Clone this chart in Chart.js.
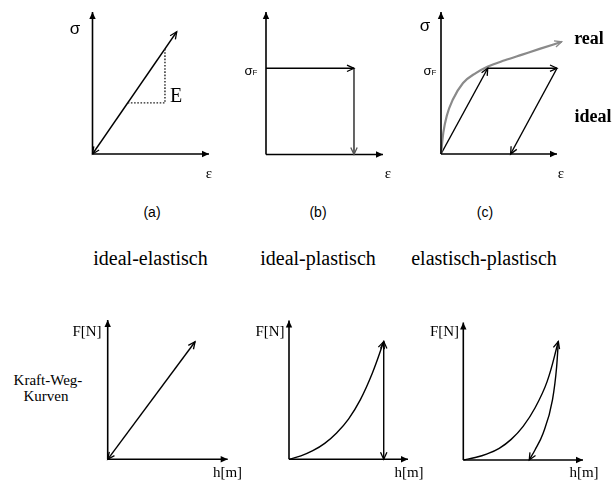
<!DOCTYPE html>
<html>
<head>
<meta charset="utf-8">
<script src="https://cdn.jsdelivr.net/npm/chart.js@4/dist/chart.umd.min.js"></script>
<style>
  html, body { margin: 0; padding: 0; background: #fff; }
  #stage { position: relative; width: 613px; height: 481px; overflow: hidden; background: #fff; }
  #stage canvas { position: absolute; }
  .t { position: absolute; white-space: nowrap; transform: translate(-50%, -50%); color: #000; line-height: 1; }
  .serif { font-family: "Liberation Serif", "DejaVu Serif", serif; }
  .sans { font-family: "Liberation Sans", "DejaVu Sans", sans-serif; }
  .bold { font-weight: bold; }
</style>
</head>
<body>
<div id="stage"></div>
<script>
// ---- Werte (normierte Achsen 0..1) ----
const axisSpan = [0, 1];

// (a) ideal-elastisch: Hooke-Gerade und Steigungsdreieck E
const strainA = [0, 0.723];
const stressA = [0, 0.861];
const slopeX  = [0.302, 0.622, 0.622];
const slopeY  = [0.36, 0.36, 0.741];

// (b) ideal-plastisch: Fliessen bei sigma_F, dann Entlastung
const strainB = [0, 0.752, 0.752];
const stressB = [0.605, 0.605, 0];

// (c) elastisch-plastisch: idealisierter Pfad und realer Verlauf
const strainCIdeal = [0, 0.403, 1.0, 0.60];
const stressCIdeal = [0, 0.604, 0.604, 0];
const strainCReal  = [0, 0.02, 0.05, 0.10, 0.19, 0.30, 0.40, 0.55, 0.70, 0.85, 1.04];
const stressCReal  = [0, 0.15, 0.27, 0.38, 0.50, 0.57, 0.615, 0.66, 0.70, 0.74, 0.79];

// Kraft-Weg-Kurven
const hD = [0, 0.728];
const FD = [0, 0.844];

const hE = [0, 0.1, 0.2, 0.3, 0.4, 0.5, 0.6, 0.7, 0.796];
const FE = [0, 0.025, 0.062, 0.115, 0.19, 0.29, 0.43, 0.62, 0.848];
const hEUnload = [0.796, 0.796];
const FEUnload = [0.848, 0];

const hF = [0, 0.1, 0.2, 0.3, 0.4, 0.5, 0.6, 0.7, 0.794];
const FF = [0, 0.018, 0.045, 0.085, 0.15, 0.245, 0.38, 0.57, 0.862];
const hFUnload = [0.794, 0.78, 0.745, 0.667, 0.599, 0.551];
const FFUnload = [0.862, 0.68, 0.437, 0.194, 0.073, 0];

// ---- Hilfsfunktionen ----
function pts(xs, ys) { return xs.map((x, i) => ({ x: x, y: ys[i] })); }

function seg(xs, ys, opts) {
  return Object.assign({
    data: pts(xs, ys),
    showLine: true,
    pointRadius: 0,
    borderColor: '#000',
    borderWidth: 1.4,
    tension: 0,
    clip: false
  }, opts || {});
}

function axes() {
  return [
    seg(axisSpan, [0, 0], { arrowEnd: 'fill', borderWidth: 1.6 }),
    seg([0, 0], axisSpan, { arrowEnd: 'fill', borderWidth: 1.6 })
  ];
}

// split a polyline into single segments, each ending in an arrow head
function arrowPath(xs, ys, opts) {
  const out = [];
  for (let i = 1; i < xs.length; i++) {
    out.push(seg([xs[i - 1], xs[i]], [ys[i - 1], ys[i]], Object.assign({ arrowEnd: 'open' }, opts || {})));
  }
  return out;
}

function drawHead(ctx, tx, ty, fx, fy, style, color) {
  const a = Math.atan2(ty - fy, tx - fx);
  const L = 7, W = 3.2;
  ctx.save();
  ctx.translate(tx, ty);
  ctx.rotate(a);
  ctx.beginPath();
  ctx.moveTo(-L, -W);
  ctx.lineTo(0, 0);
  ctx.lineTo(-L, W);
  if (style === 'fill') {
    ctx.closePath();
    ctx.fillStyle = color;
    ctx.fill();
  } else {
    ctx.strokeStyle = color;
    ctx.lineWidth = 1.3;
    ctx.lineJoin = 'miter';
    ctx.stroke();
  }
  ctx.restore();
}

const arrowHeads = {
  id: 'arrowHeads',
  afterDatasetsDraw(chart) {
    const ctx = chart.ctx;
    chart.data.datasets.forEach((ds, i) => {
      const el = chart.getDatasetMeta(i).data;
      if (el.length < 2) return;
      const color = ds.borderColor;
      if (ds.arrowEnd) {
        const tip = el[el.length - 1];
        let fx = tip.cp1x, fy = tip.cp1y;
        if (fx === undefined || (Math.abs(fx - tip.x) < 0.5 && Math.abs(fy - tip.y) < 0.5)) {
          fx = el[el.length - 2].x; fy = el[el.length - 2].y;
        }
        drawHead(ctx, tip.x, tip.y, fx, fy, ds.arrowEnd, color);
      }
      if (ds.arrowStart) {
        const tip = el[0];
        let fx = tip.cp2x, fy = tip.cp2y;
        if (fx === undefined || (Math.abs(fx - tip.x) < 0.5 && Math.abs(fy - tip.y) < 0.5)) {
          fx = el[1].x; fy = el[1].y;
        }
        drawHead(ctx, tip.x, tip.y, fx, fy, ds.arrowStart, color);
      }
    });
  }
};

// ---- Diagramme ----
const curve = { cubicInterpolationMode: 'monotone' };
const smooth = { tension: 0.4 };

const panels = [
  { box: [60, 0, 170, 175], area: [92.5, 12, 209, 154],
    datasets: axes().concat([
      seg(slopeX, slopeY, { borderDash: [1.6, 1.6], borderWidth: 1.4, borderColor: '#222' }),
      seg(strainA, stressA, { arrowEnd: 'open', arrowStart: 'open' })
    ]) },
  { box: [240, 0, 170, 175], area: [266, 12, 383, 154.5],
    datasets: axes().concat([
      seg(strainB.slice(0, 2), stressB.slice(0, 2), { arrowEnd: 'open' }),
      seg(strainB.slice(1), stressB.slice(1), { arrowEnd: 'open', borderColor: '#555', borderWidth: 1.8 })
    ]) },
  { box: [415, 0, 170, 175], area: [441, 12, 557, 154],
    datasets: axes().concat([
      seg(strainCReal, stressCReal, Object.assign({ arrowEnd: 'open', borderColor: '#8a8a8a', borderWidth: 2.2 }, curve))
    ]).concat(arrowPath(strainCIdeal, stressCIdeal)) },
  { box: [90, 305, 150, 170], area: [107.7, 320, 227.7, 459.3],
    datasets: axes().concat([
      seg(hD, FD, { arrowEnd: 'open', arrowStart: 'open' })
    ]) },
  { box: [270, 305, 150, 170], area: [289, 320.5, 408, 459.3],
    datasets: axes().concat([
      seg(hE, FE, Object.assign({ arrowEnd: 'open' }, smooth)),
      seg(hEUnload, FEUnload, { arrowEnd: 'open', arrowStart: 'open' })
    ]) },
  { box: [445, 305, 150, 170], area: [463.3, 322.5, 583, 460],
    datasets: axes().concat([
      seg(hF, FF, Object.assign({ arrowEnd: 'open' }, smooth)),
      seg(hFUnload, FFUnload, Object.assign({ arrowEnd: 'open' }, curve))
    ]) }
];

const stage = document.getElementById('stage');

panels.forEach(p => {
  const [bx, by, bw, bh] = p.box;
  const [l, t, r, b] = p.area;
  const cv = document.createElement('canvas');
  cv.width = bw; cv.height = bh;
  cv.style.left = bx + 'px'; cv.style.top = by + 'px';
  cv.style.width = bw + 'px'; cv.style.height = bh + 'px';
  stage.appendChild(cv);
  new Chart(cv, {
    type: 'scatter',
    data: { datasets: p.datasets },
    options: {
      responsive: false,
      animation: false,
      devicePixelRatio: 1,
      layout: { padding: { left: l - bx, top: t - by, right: bx + bw - r, bottom: by + bh - b } },
      scales: {
        x: { type: 'linear', display: false, min: 0, max: 1 },
        y: { type: 'linear', display: false, min: 0, max: 1 }
      },
      plugins: { legend: { display: false }, tooltip: { enabled: false } },
      events: []
    },
    plugins: [arrowHeads]
  });
});

// ---- Beschriftungen ----
const labels = [
  ['σ', 75, 28, 17, 'sans'],
  ['E', 176, 95, 20, 'serif'],
  ['ε', 209, 173, 15, 'serif'],
  ['σ<span style="font-size:8px">F</span>', 251, 70, 13, 'sans'],
  ['ε', 388, 173, 15, 'serif'],
  ['σ', 425, 25, 17, 'sans'],
  ['σ<span style="font-size:8px">F</span>', 430, 70, 13, 'sans'],
  ['ε', 561, 173, 15, 'serif'],
  ['real', 589, 38, 18, 'serif bold'],
  ['ideal', 593, 116, 18, 'serif bold'],
  ['(a)', 152, 212, 14, 'sans'],
  ['(b)', 318, 212, 14, 'sans'],
  ['(c)', 485, 212, 14, 'sans'],
  ['ideal-elastisch', 150.5, 258, 20, 'serif'],
  ['ideal-plastisch', 318, 258, 20, 'serif'],
  ['elastisch-plastisch', 484, 258, 20, 'serif'],
  ['F[N]', 87, 331, 15, 'serif'],
  ['F[N]', 270, 331, 15, 'serif'],
  ['F[N]', 444.5, 331, 15, 'serif'],
  ['Kraft-Weg-', 48, 380, 15, 'serif'],
  ['Kurven', 46, 396, 15, 'serif'],
  ['h[m]', 227.5, 472, 15, 'serif'],
  ['h[m]', 409, 472, 15, 'serif'],
  ['h[m]', 584, 472, 15, 'serif']
];

labels.forEach(([txt, x, y, size, cls]) => {
  const d = document.createElement('div');
  d.className = 't ' + cls;
  d.style.left = x + 'px';
  d.style.top = y + 'px';
  d.style.fontSize = size + 'px';
  d.innerHTML = txt;
  stage.appendChild(d);
});
</script>
</body>
</html>
